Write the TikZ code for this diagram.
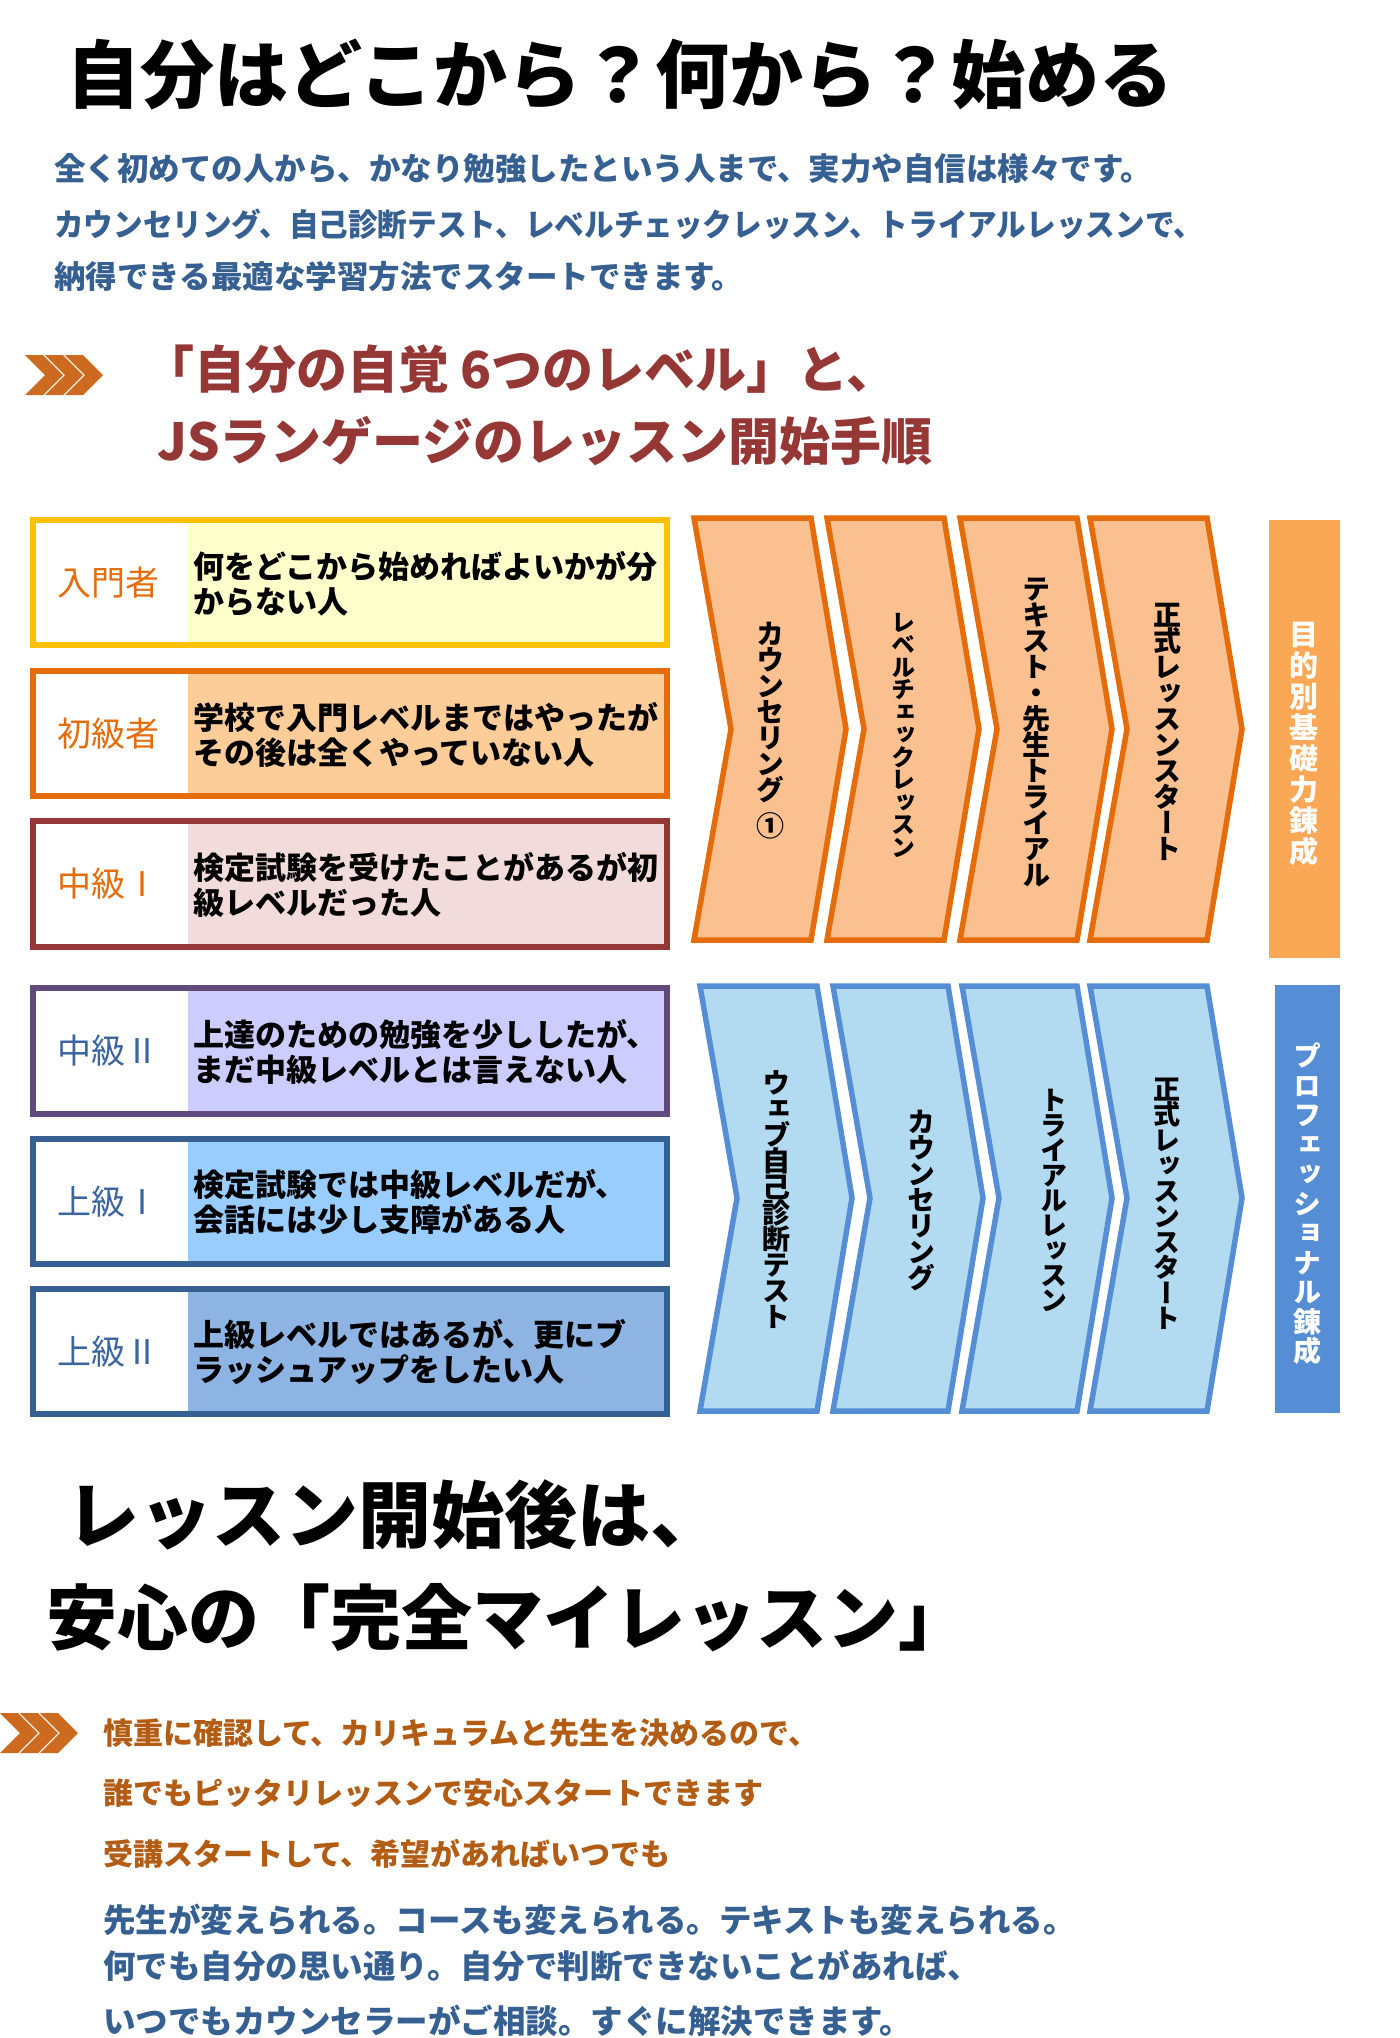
\documentclass[tikz,border=0pt]{standalone}
\usepackage{fontspec}
\usepackage{tikz}
\usetikzlibrary{positioning}
\newfontfamily\jp{Noto Sans CJK JP}
\newfontfamily\jpv[RawFeature=+vert]{Noto Sans CJK JP}

\begin{document}
\begin{tikzpicture}[x=1pt,y=1pt,yscale=-1,xscale=1,
    boxline/.style={line width=6},
    ochev/.style={line width=5.5, draw={rgb, 255:red, 228; green, 108; blue, 10 }, fill={rgb, 255:red, 250; green, 192; blue, 144 }},
    bchev/.style={line width=5.5, draw={rgb, 255:red, 85; green, 142; blue, 213 }, fill={rgb, 255:red, 178; green, 218; blue, 240 }},
    icon/.style={fill={rgb, 255:red, 204; green, 106; blue, 31 }},
    desc/.style={anchor=west, align=left, inner sep=0, font={\jp\bfseries\fontsize{31}{35}\selectfont}},
    lvl/.style={anchor=west, inner sep=0, font={\jp\fontsize{34}{38}\selectfont}},
    vtext/.style={align=center, inner sep=0, font={\jpv\bfseries\fontsize{28}{26}\selectfont\lineskiplimit=-100pt}},
    bartext/.style={align=center, inner sep=0, text=white, font={\jpv\bfseries\fontsize{29}{31}\selectfont\lineskiplimit=-100pt}},
    bluetxt/.style={anchor=west, inner sep=0, text={rgb, 255:red, 54; green, 96; blue, 146 }, font={\jp\bfseries\fontsize{31.5}{36}\selectfont}},
    browntxt/.style={anchor=west, inner sep=0, text={rgb, 255:red, 178; green, 92; blue, 20 }, font={\jp\bfseries\fontsize{30}{34}\selectfont}}
    ]
    \useasboundingbox (0,0) rectangle (1400,2038);
    \fill [white] (0,0) rectangle (1400,2038);

    % Text Node
    \draw (66,75) node (title) [anchor=west, inner sep=0, font={\jp\bfseries\fontsize{74}{80}\selectfont}] {自分はどこから？何から？始める};
    % Text Node
    \draw (54,169) node (para1) [bluetxt] {全く初めての人から、かなり勉強したという人まで、実力や自信は様々です。};
    % Text Node
    \draw (54,224) node (para2) [bluetxt] {\scalebox{0.94}[1]{カウンセリング、自己診断テスト、レベルチェックレッスン、トライアルレッスンで、}};
    % Text Node
    \draw (54,277) node (para3) [bluetxt] {納得できる最適な学習方法でスタートできます。};

    %Shape: Chevron icon
    \fill [icon, shift={(25,355)}] (0,0) -- (18,0) -- (38,20) -- (18,40) -- (0,40) -- (20,20) -- cycle ;
    \fill [icon, shift={(45,355)}] (0,0) -- (18,0) -- (38,20) -- (18,40) -- (0,40) -- (20,20) -- cycle ;
    \fill [icon, shift={(65,355)}] (0,0) -- (18,0) -- (38,20) -- (18,40) -- (0,40) -- (20,20) -- cycle ;
    % Text Node
    \draw (143,369) node (head1) [anchor=west, inner sep=0, text={rgb, 255:red, 149; green, 55; blue, 53 }, font={\jp\bfseries\fontsize{51}{56}\selectfont}] {「自分の自覚 6つのレベル」と、};
    % Text Node
    \draw (157,441) node (head2) [anchor=west, inner sep=0, text={rgb, 255:red, 149; green, 55; blue, 53 }, font={\jp\bfseries\fontsize{51}{56}\selectfont}] {JSランゲージのレッスン開始手順};

    %Shape: Rectangle [入門者]
    \fill [fill={rgb, 255:red, 255; green, 255; blue, 204 }] (188,520) -- (667,520) -- (667,645) -- (188,645) -- cycle ;
    \draw [boxline, draw={rgb, 255:red, 255; green, 192; blue, 0 }] (33,520) -- (667,520) -- (667,645) -- (33,645) -- cycle ;
    %Shape: Rectangle [初級者]
    \fill [fill={rgb, 255:red, 252; green, 204; blue, 153 }] (188,671) -- (667,671) -- (667,796) -- (188,796) -- cycle ;
    \draw [boxline, draw={rgb, 255:red, 228; green, 108; blue, 10 }] (33,671) -- (667,671) -- (667,796) -- (33,796) -- cycle ;
    %Shape: Rectangle [中級I]
    \fill [fill={rgb, 255:red, 242; green, 220; blue, 219 }] (188,821) -- (667,821) -- (667,947) -- (188,947) -- cycle ;
    \draw [boxline, draw={rgb, 255:red, 149; green, 55; blue, 53 }] (33,821) -- (667,821) -- (667,947) -- (33,947) -- cycle ;
    %Shape: Rectangle [中級II]
    \fill [fill={rgb, 255:red, 204; green, 204; blue, 255 }] (188,988) -- (667,988) -- (667,1114) -- (188,1114) -- cycle ;
    \draw [boxline, draw={rgb, 255:red, 96; green, 74; blue, 123 }] (33,988) -- (667,988) -- (667,1114) -- (33,1114) -- cycle ;
    %Shape: Rectangle [上級I]
    \fill [fill={rgb, 255:red, 153; green, 204; blue, 255 }] (188,1139) -- (667,1139) -- (667,1264) -- (188,1264) -- cycle ;
    \draw [boxline, draw={rgb, 255:red, 55; green, 96; blue, 146 }] (33,1139) -- (667,1139) -- (667,1264) -- (33,1264) -- cycle ;
    %Shape: Rectangle [上級II]
    \fill [fill={rgb, 255:red, 141; green, 180; blue, 226 }] (188,1289) -- (667,1289) -- (667,1414) -- (188,1414) -- cycle ;
    \draw [boxline, draw={rgb, 255:red, 55; green, 96; blue, 146 }] (33,1289) -- (667,1289) -- (667,1414) -- (33,1414) -- cycle ;

    % Text Node
    \draw (57,583) node (lv1) [lvl, text={rgb, 255:red, 228; green, 108; blue, 10 }] {入門者};
    \draw (57,734) node (lv2) [lvl, text={rgb, 255:red, 228; green, 108; blue, 10 }] {初級者};
    \draw (57,884) node (lv3) [lvl, text={rgb, 255:red, 228; green, 108; blue, 10 }] {中級Ⅰ};
    \draw (57,1051) node (lv4) [lvl, text={rgb, 255:red, 60; green, 100; blue, 160 }] {中級Ⅱ};
    \draw (57,1202) node (lv5) [lvl, text={rgb, 255:red, 60; green, 100; blue, 160 }] {上級Ⅰ};
    \draw (57,1352) node (lv6) [lvl, text={rgb, 255:red, 60; green, 100; blue, 160 }] {上級Ⅱ};
    % Text Node
    \draw (193,584) node (d1) [desc] {何をどこから始めればよいかが分\\からない人};
    \draw (193,735) node (d2) [desc] {学校で入門レベルまではやったが\\その後は全くやっていない人};
    \draw (193,885) node (d3) [desc] {検定試験を受けたことがあるが初\\級レベルだった人};
    \draw (193,1052) node (d4) [desc] {上達のための勉強を少ししたが、\\まだ中級レベルとは言えない人};
    \draw (193,1202) node (d5) [desc] {検定試験では中級レベルだが、\\会話には少し支障がある人};
    \draw (193,1352) node (d6) [desc] {上級レベルではあるが、更にブ\\ラッシュアップをしたい人};

    %Shape: Chevron [orange row]
    \draw [ochev] (694,518) -- (811,518) -- (846,729) -- (811,940) -- (694,940) -- (731,729) -- cycle ;
    \draw [ochev] (827,518) -- (944,518) -- (979,729) -- (944,940) -- (827,940) -- (864,729) -- cycle ;
    \draw [ochev] (960,518) -- (1077,518) -- (1112,729) -- (1077,940) -- (960,940) -- (997,729) -- cycle ;
    \draw [ochev] (1090,518) -- (1207,518) -- (1242,729) -- (1207,940) -- (1090,940) -- (1127,729) -- cycle ;
    %Shape: Chevron [blue row]
    \draw [bchev] (700,986) -- (817,986) -- (852,1198) -- (817,1411) -- (700,1411) -- (737,1198) -- cycle ;
    \draw [bchev] (833,986) -- (948,986) -- (983,1198) -- (948,1411) -- (833,1411) -- (870,1198) -- cycle ;
    \draw [bchev] (962,986) -- (1077,986) -- (1112,1198) -- (1077,1411) -- (962,1411) -- (999,1198) -- cycle ;
    \draw [bchev] (1090,986) -- (1207,986) -- (1242,1198) -- (1207,1411) -- (1090,1411) -- (1127,1198) -- cycle ;

    % Text Node
    \draw (770,731) node (o1) [vtext] {カ\\ウ\\ン\\セ\\リ\\ン\\グ\\[10pt]①};
    \draw (903,735) node (o2) [vtext, font={\jpv\bfseries\fontsize{24}{22.5}\selectfont\lineskiplimit=-100pt}] {レ\\ベ\\ル\\チ\\ェ\\ッ\\ク\\レ\\ッ\\ス\\ン};
    \draw (1036,732) node (o3) [vtext] {テ\\キ\\ス\\ト\\・\\先\\生\\ト\\ラ\\イ\\ア\\ル};
    \draw (1167,732) node (o4) [vtext] {正\\式\\レ\\ッ\\ス\\ン\\ス\\タ\\ー\\ト};
    % Text Node
    \draw (776,1200) node (b1) [vtext] {ウ\\ェ\\ブ\\自\\己\\診\\断\\テ\\ス\\ト};
    \draw (921,1200) node (b2) [vtext] {カ\\ウ\\ン\\セ\\リ\\ン\\グ};
    \draw (1054,1200) node (b3) [vtext, font={\jpv\bfseries\fontsize{27}{25}\selectfont\lineskiplimit=-100pt}] {ト\\ラ\\イ\\ア\\ル\\レ\\ッ\\ス\\ン};
    \draw (1167,1204) node (b4) [vtext, font={\jpv\bfseries\fontsize{27}{25.5}\selectfont\lineskiplimit=-100pt}] {正\\式\\レ\\ッ\\ス\\ン\\ス\\タ\\ー\\ト};

    %Shape: Rectangle [bars]
    \fill [fill={rgb, 255:red, 250; green, 168; blue, 86 }] (1269,520) -- (1340,520) -- (1340,958) -- (1269,958) -- cycle ;
    \fill [fill={rgb, 255:red, 85; green, 142; blue, 213 }] (1275,985) -- (1340,985) -- (1340,1413) -- (1275,1413) -- cycle ;
    % Text Node
    \draw (1304,744) node (bar1) [bartext] {目\\的\\別\\基\\礎\\力\\錬\\成};
    \draw (1307,1204) node (bar2) [bartext, font={\jpv\bfseries\fontsize{28}{29.5}\selectfont\lineskiplimit=-100pt}] {プ\\ロ\\フ\\ェ\\ッ\\シ\\ョ\\ナ\\ル\\錬\\成};

    % Text Node
    \draw (66,1515) node (sub1) [anchor=west, inner sep=0, font={\jp\bfseries\fontsize{73}{78}\selectfont}] {レッスン開始後は、};
    \draw (46,1618) node (sub2) [anchor=west, inner sep=0, font={\jp\bfseries\fontsize{71}{78}\selectfont}] {安心の「完全マイレッスン」};

    %Shape: Chevron icon
    \fill [icon, shift={(0,1713)}] (0,0) -- (18,0) -- (38,20) -- (18,40) -- (0,40) -- (20,20) -- cycle ;
    \fill [icon, shift={(20,1713)}] (0,0) -- (18,0) -- (38,20) -- (18,40) -- (0,40) -- (20,20) -- cycle ;
    \fill [icon, shift={(40,1713)}] (0,0) -- (18,0) -- (38,20) -- (18,40) -- (0,40) -- (20,20) -- cycle ;
    % Text Node
    \draw (103,1733) node (note1) [browntxt] {慎重に確認して、カリキュラムと先生を決めるので、};
    \draw (103,1793) node (note2) [browntxt] {誰でもピッタリレッスンで安心スタートできます};
    \draw (103,1854) node (note3) [browntxt] {受講スタートして、希望があればいつでも};
    % Text Node
    \draw (103,1920) node (note4) [bluetxt, font={\jp\bfseries\fontsize{32.5}{36}\selectfont}] {先生が変えられる。コースも変えられる。テキストも変えられる。};
    \draw (103,1966) node (note5) [bluetxt, font={\jp\bfseries\fontsize{32.5}{36}\selectfont}] {何でも自分の思い通り。自分で判断できないことがあれば、};
    \draw (103,2021) node (note6) [bluetxt, font={\jp\bfseries\fontsize{32.5}{36}\selectfont}] {いつでもカウンセラーがご相談。すぐに解決できます。};

\end{tikzpicture}
\end{document}
